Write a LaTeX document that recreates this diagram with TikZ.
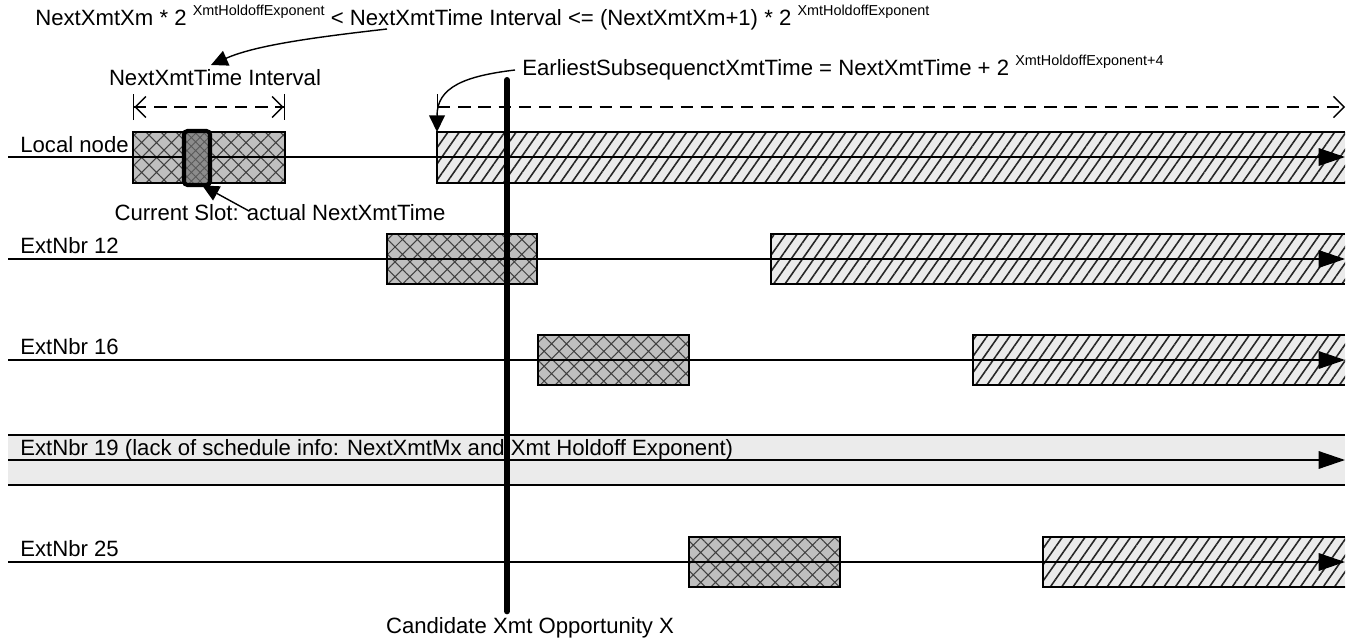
\documentclass[tikz,border=0pt]{standalone}
\usepackage{fontspec}
\setmainfont{Liberation Sans}
\usetikzlibrary{arrows.meta,patterns.meta}

\newcommand{\hexp}[1]{\raisebox{5.8pt}{\fontsize{8.2pt}{9pt}\selectfont #1}}

\begin{document}
\begin{tikzpicture}[x=0.02cm, y=-0.02cm,
  font=\fontsize{12.6pt}{15pt}\selectfont,
  lbl/.style={inner sep=0pt, anchor=base west},
  thinline/.style={line width=0.8pt},
  rowline/.style={line width=0.8pt, -{Triangle[length=15pt,width=10pt]}},
  xbox/.style={draw, line width=0.8pt, preaction={fill=black!25}, pattern={Hatch[angle=45,distance=6pt,line width=0.6pt]}, pattern color=black!75},
  hbox/.style={preaction={fill=black!8}, pattern={Lines[angle=55,distance=5.3pt,line width=0.9pt]}, pattern color=black!85},
  annarr/.style={line width=0.8pt, -{Triangle[length=9.5pt,width=9pt]}},
  dimarr/.style={line width=0.8pt, dash pattern=on 7pt off 4.5pt},
  candline/.style={line width=3.4pt, line cap=round}
]
\useasboundingbox (0,0) rectangle (1366,642);

% ExtNbr 19 band
\fill[black!8] (8,435) rectangle (1345,485);
\draw[thinline] (8,435) -- (1345,435) (8,485) -- (1345,485);

% hatched boxes: earliest subsequent time onwards
\path[hbox] (437,132) rectangle (1345,183);
\draw[thinline] (1345,132) -- (437,132) -- (437,183) -- (1345,183);
\path[hbox] (771,234) rectangle (1345,284);
\draw[thinline] (1345,234) -- (771,234) -- (771,284) -- (1345,284);
\path[hbox] (973,335) rectangle (1345,385);
\draw[thinline] (1345,335) -- (973,335) -- (973,385) -- (1345,385);
\path[hbox] (1043,537) rectangle (1345,587);
\draw[thinline] (1345,537) -- (1043,537) -- (1043,587) -- (1345,587);

% cross hatched boxes: NextXmtTime interval
\path[xbox] (133,132) rectangle (285,183);
\path[xbox] (387,234) rectangle (537,284);
\path[xbox] (538,335) rectangle (689,385);
\path[xbox] (689,537) rectangle (840,587);

% time lines
\coordinate (l1s) at (8,157);  \coordinate (l1e) at (1345,157);
\coordinate (l2s) at (8,259);  \coordinate (l2e) at (1345,259);
\coordinate (l3s) at (8,360);  \coordinate (l3e) at (1345,360);
\coordinate (l4s) at (8,460);  \coordinate (l4e) at (1345,460);
\coordinate (l5s) at (8,562);  \coordinate (l5e) at (1345,562);
\draw[rowline] (l1s) -- (l1e);
\draw[rowline] (l2s) -- (l2e);
\draw[rowline] (l3s) -- (l3e);
\draw[rowline] (l4s) -- (l4e);
\draw[rowline] (l5s) -- (l5e);

% current slot
\node[draw, line width=2.3pt, rounded corners=2pt, inner sep=0pt, minimum width=0.52cm, minimum height=1.08cm,
  preaction={fill=black!45}, pattern={Hatch[angle=45,distance=3.5pt,line width=0.5pt]}, pattern color=black!65] (curslot) at (197,158) {};

% row labels
\node[lbl] (lblloc) at (20,153) {Local node};
\node[lbl] (lbl12) at (20,253) {ExtNbr 12};
\node[lbl] (lbl16) at (20,354) {ExtNbr 16};
\node[lbl] (lbl19) at (20,455) {ExtNbr 19 (lack of schedule info: NextXmtMx and Xmt Holdoff Exponent)};
\node[lbl] (lbl25) at (20,556) {ExtNbr 25};

% annotations
\node[lbl] (eqtop) at (35,26) {NextXmtXm * 2 \hexp{XmtHoldoffExponent} < NextXmtTime Interval <= (NextXmtXm+1) * 2 \hexp{XmtHoldoffExponent}};
\node[inner sep=0pt, anchor=base] (intlbl) at (215,86) {NextXmtTime Interval};
\node[inner sep=0pt, anchor=base] (curlbl) at (280,220) {Current Slot: actual NextXmtTime};
\node[lbl] (earliest) at (522,76) {EarliestSubsequenctXmtTime = NextXmtTime + 2 \hexp{XmtHoldoffExponent+4}};
\node[inner sep=0pt, anchor=base] (cand) at (530,633) {Candidate Xmt Opportunity X};

\coordinate (eqtail) at (387,29);
\coordinate (inttip) at (211,65);
\draw[annarr] (eqtail) .. controls +(-70,8) and +(45,-20) .. (inttip);

\coordinate (curtail) at (249,211);
\draw[annarr] (curtail) -- ([xshift=3pt]curslot.south);

\coordinate (eatail) at (515,70);
\coordinate (eatip) at (437,132);
\draw[annarr] (eatail) .. controls +(-50,6) and +(0,-45) .. (eatip);

% dashed spans
\coordinate (ia) at (133,107); \coordinate (ib) at (285,107);
\draw[dimarr, {Bar[width=15pt]Straight Barb[length=6pt,width=12pt]}-{Straight Barb[length=6pt,width=12pt]Bar[width=15pt]}] (ia) -- (ib);
\coordinate (ea) at (437,107); \coordinate (eb) at (1345,107);
\draw[dimarr, {Bar[width=15pt]}-{Straight Barb[length=6pt,width=12pt]}] (ea) -- (eb);

% candidate opportunity
\coordinate (candtop) at (507,80);
\draw[candline] (candtop) -- ([yshift=3pt]cand.north -| candtop);
\end{tikzpicture}
\end{document}
